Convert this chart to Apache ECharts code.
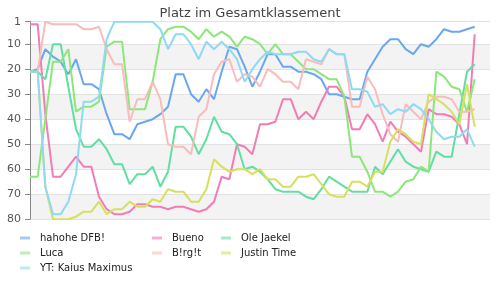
<!DOCTYPE html>
<html>
<head>
<meta charset="utf-8">
<script src="https://cdn.jsdelivr.net/npm/echarts@6/dist/echarts.min.js"></script>
<style>
html,body{margin:0;padding:0;background:#fff;}
#c{width:500px;height:285px;}
</style>
</head>
<body>
<div id="c"></div>
<script>
// Data (rank per round, lower is better)
const rounds = Array.from({length: 61}, (_, i) => String(i + 1));
const yTicks = [1, 10, 20, 30, 40, 50, 60, 70, 80];

const hahohe = [21,20,12,15,17,22,16,26,26,28,38,46,46,48,42,41,40,38,35,22,22,30,33,28,32,21,11,12,19,27,21,14,14,19,19,21,21,22,24,30,30,31,32,32,21,16,11,8,8,12,14,10,11,8,4,5,5,4,3];
const bueno  = [2,2,38,63,63,59,55,59,59,71,76,78,78,77,74,74,75,75,76,75,75,76,77,76,73,63,64,50,51,54,42,42,41,32,32,40,37,40,33,27,27,31,44,44,38,42,49,41,45,47,50,53,36,38,38,39,42,50,6];
const ole    = [21,21,24,10,10,27,44,51,51,48,52,58,58,66,62,62,59,67,61,43,43,47,54,48,39,45,46,50,60,59,61,64,68,69,69,69,71,72,68,63,65,67,69,69,69,59,62,57,52,57,59,60,61,53,55,55,38,21,18];
const luca   = [63,63,40,17,17,12,37,35,35,33,11,9,9,36,36,36,25,8,4,3,3,5,8,4,7,5,7,11,7,8,10,14,10,14,14,17,20,20,22,24,24,31,55,55,61,69,69,71,69,65,64,59,61,21,23,27,28,37,24];
const birgit = [21,21,1,2,2,2,2,4,4,3,12,18,18,41,32,32,25,32,50,51,51,54,39,36,22,17,16,25,22,23,27,20,22,25,25,28,16,17,18,12,14,14,35,35,23,28,38,46,49,34,37,40,33,31,31,32,37,37,36];
const justin = [21,21,67,80,80,80,79,77,77,73,78,76,76,73,75,75,72,73,68,69,69,73,73,68,56,59,61,60,60,62,60,64,64,67,67,63,63,62,66,70,71,71,65,65,67,61,61,49,44,46,49,50,30,32,34,37,42,26,43];
const kaius  = [21,21,67,78,78,73,62,33,33,31,8,1,1,1,1,1,1,4,12,6,6,10,16,9,12,9,12,16,25,20,16,13,14,14,14,13,13,16,17,12,14,14,28,28,29,35,34,38,36,37,34,36,40,45,48,47,47,44,51];

const names = ['hahohe DFB!', 'Bueno', 'Ole Jaekel', 'Luca', 'B!rg!t', 'Justin Time', 'YT: Kaius Maximus'];
const values = [hahohe, bueno, ole, luca, birgit, justin, kaius];
const colors = ['#69a7f0', '#f27cb5', '#62dea3', '#8de67c', '#f8bcbc', '#d6e05c', '#8fd9f2'];

const chart = echarts.init(document.getElementById('c'), null, {renderer: 'canvas'});
const FONT = 'DejaVu Sans';

const legendBase = {
  orient: 'vertical',
  top: 228,
  itemWidth: 10,
  itemHeight: 3,
  itemGap: 5,
  icon: 'rect',
  itemStyle: {opacity: 0.6},
  textStyle: {fontFamily: FONT, fontSize: 10, color: '#222', padding: [0, 0, 0, 5]}
};

chart.setOption({
  animation: false,
  color: colors,
  title: {
    text: 'Platz im Gesamtklassement',
    left: 'center',
    top: 2,
    textStyle: {fontFamily: FONT, fontSize: 13, fontWeight: 'normal', color: '#444'}
  },
  legend: [
    Object.assign({}, legendBase, {left: 15, data: [names[0], names[3], names[6]]}),
    Object.assign({}, legendBase, {left: 147, data: [names[1], names[4]]}),
    Object.assign({}, legendBase, {left: 216, data: [names[2], names[5]]})
  ],
  grid: {left: 30, right: 10, top: 21.7, bottom: 65.8, containLabel: false},
  xAxis: {
    type: 'category',
    data: rounds,
    boundaryGap: false,
    show: false
  },
  yAxis: {
    type: 'value',
    inverse: true,
    min: 1,
    max: 80,
    axisLine: {show: true, lineStyle: {color: '#888'}},
    axisTick: {show: true, length: 5, lineStyle: {color: '#888'}, customValues: yTicks},
    axisLabel: {fontFamily: FONT, fontSize: 11, color: '#555', margin: 9, customValues: yTicks},
    splitLine: {show: true, lineStyle: {color: '#e2e2e2'}},
    splitArea: {show: true, areaStyle: {color: ['#ffffff', '#f3f3f3']}}
  },
  series: names.map((n, k) => ({
    name: n,
    type: 'line',
    data: values[k],
    symbol: 'none',
    smooth: false,
    lineStyle: {width: 2}
  }))
});
</script>
</body>
</html>
